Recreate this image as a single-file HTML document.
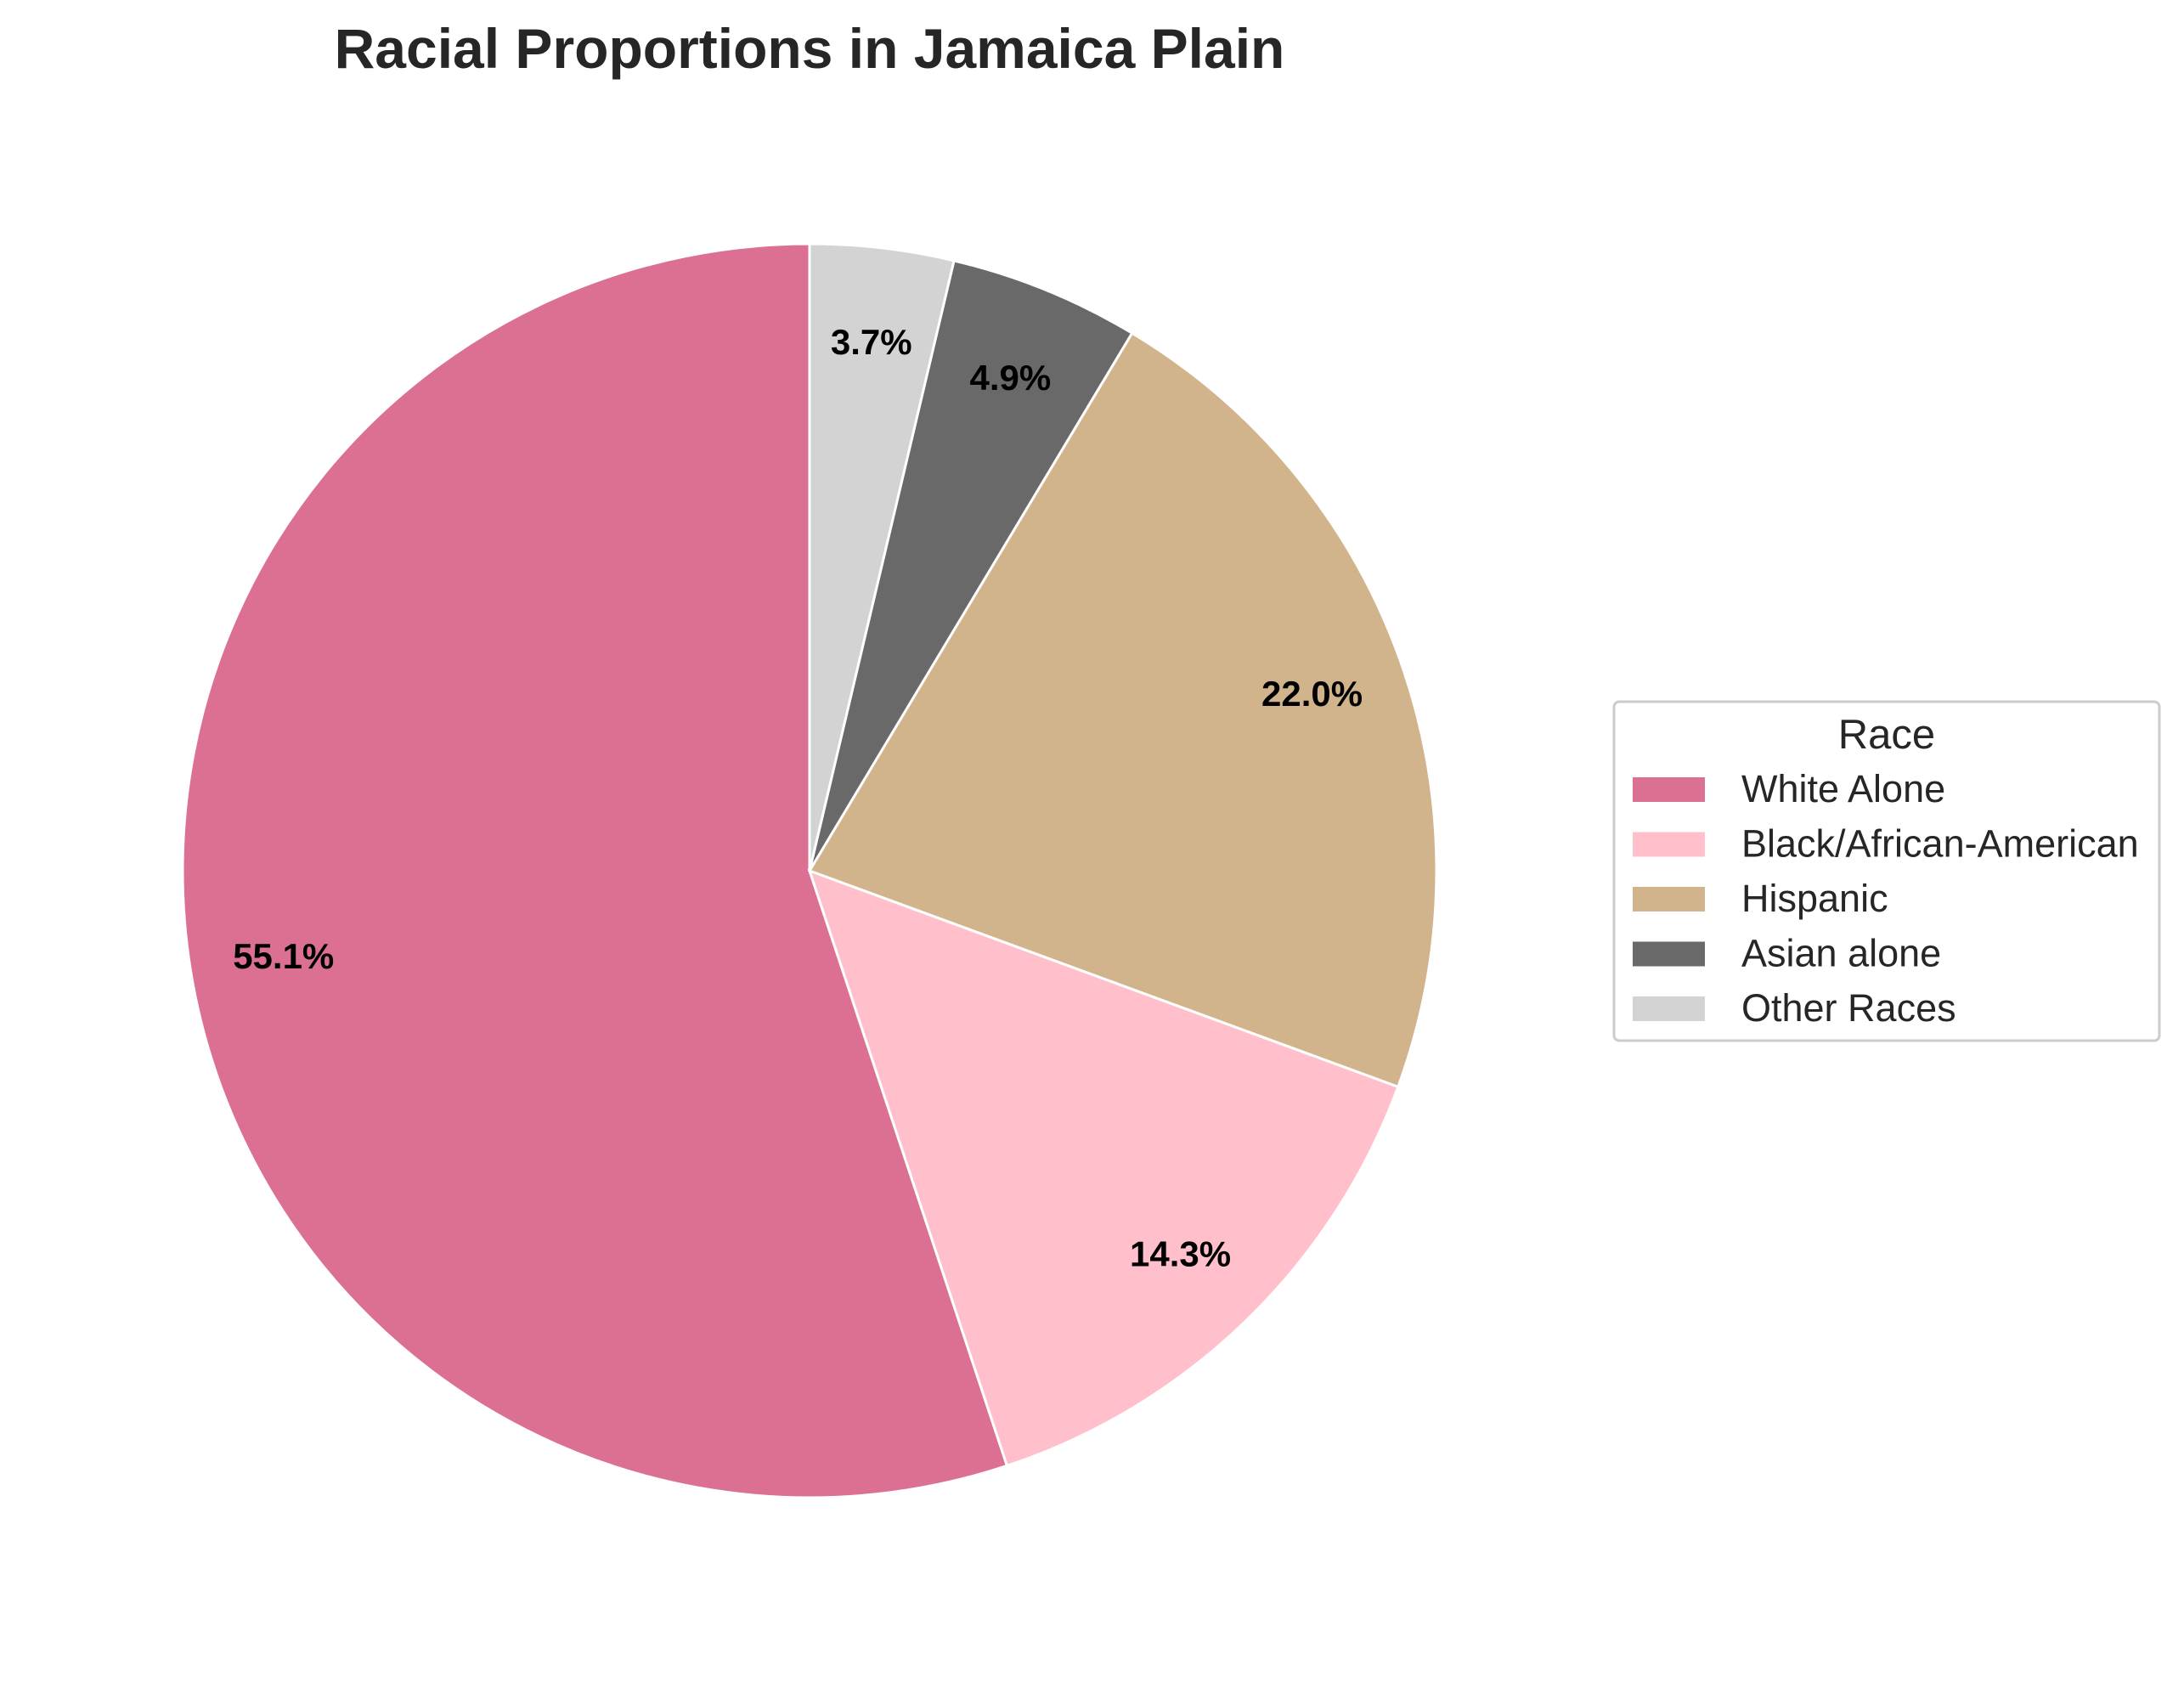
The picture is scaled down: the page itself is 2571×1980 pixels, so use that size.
<!DOCTYPE html>
<html><head><meta charset="utf-8"><style>
html,body{margin:0;padding:0;background:#fff;}
svg{display:block;font-family:"Liberation Sans",Arial,sans-serif;}
</style></head><body>
<svg id="chart" width="2571" height="1980" viewBox="0 0 2571 1980">
<text x="953" y="80" text-anchor="middle" font-size="66" font-weight="bold" fill="#262626">Racial Proportions in Jamaica Plain</text>
<g id="slices"></g>
<g id="labels"></g>
<g>
<rect x="1900" y="826" width="642" height="399" rx="6" fill="#fff" stroke="#cccccc" stroke-width="3"/>
<text x="2221" y="881" text-anchor="middle" font-size="49" fill="#262626">Race</text>
<g id="legend-items"></g>
</g>
</svg>
<script>
const categories=["White Alone","Black/African-American","Hispanic","Asian alone","Other Races"];
const values=[55.1,14.3,22.0,4.9,3.7];
const colors=["#DB7093","#FFC0CB","#D2B48C","#696969","#D3D3D3"];
const NS="http://www.w3.org/2000/svg";
const cx=953,cy=1025,R=738;
const total=values.reduce((a,b)=>a+b,0);
const sg=document.getElementById('slices'),lg=document.getElementById('labels'),li=document.getElementById('legend-items');
let a=90;
function pt(deg,r){const t=deg*Math.PI/180;return [cx+r*Math.cos(t),cy-r*Math.sin(t)];}
values.forEach((v,i)=>{
  const sweep=v/total*360,a2=a+sweep;
  const p1=pt(a,R),p2=pt(a2,R);
  const path=document.createElementNS(NS,'path');
  path.setAttribute('d',`M${cx},${cy} L${p1[0]},${p1[1]} A${R},${R} 0 ${sweep>180?1:0} 0 ${p2[0]},${p2[1]} Z`);
  path.setAttribute('fill',colors[i]);path.setAttribute('stroke','#fff');path.setAttribute('stroke-width','3');
  
  
  sg.appendChild(path);
  const m=pt((a+a2)/2,R*0.85);
  const t=document.createElementNS(NS,'text');
  t.setAttribute('x',m[0]);t.setAttribute('y',m[1]+15);t.setAttribute('text-anchor','middle');
  t.setAttribute('font-size','42');t.setAttribute('font-weight','bold');t.setAttribute('fill','#000');
  t.textContent=v.toFixed(1)+'%';
  
  
  lg.appendChild(t);
  a=a2;
  const y=928+i*64.5;
  const r=document.createElementNS(NS,'rect');
  r.setAttribute('x',1922);r.setAttribute('y',y-13);r.setAttribute('width',85);r.setAttribute('height',29);r.setAttribute('fill',colors[i]);
  
  
  li.appendChild(r);
  const tx=document.createElementNS(NS,'text');
  tx.setAttribute('x',2050);tx.setAttribute('y',y+16);tx.setAttribute('font-size','45');tx.setAttribute('fill','#262626');
  tx.textContent=categories[i];
  
  
  li.appendChild(tx);
});
</script>
</body></html>
